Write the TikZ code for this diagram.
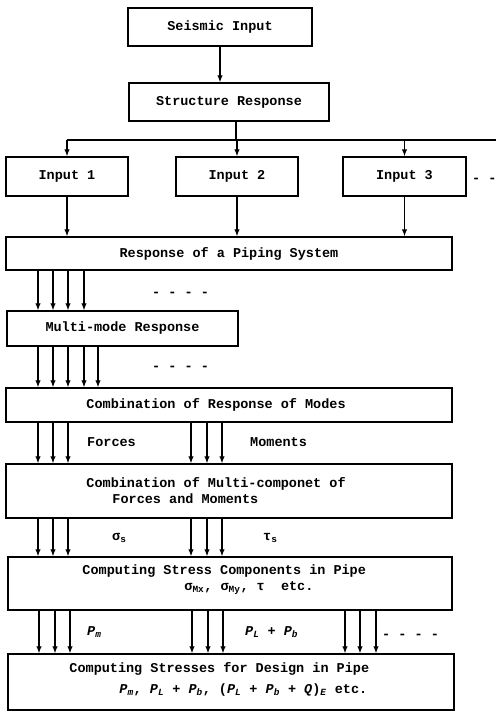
\documentclass[tikz,border=0pt]{standalone}
\usepackage{fontspec}
\setmonofont{Liberation Mono}
\usepackage{tikz}
\usetikzlibrary{positioning, arrows.meta}

\tikzset{
  box/.style={draw, line width=1.5pt, inner sep=0pt, font={\ttfamily\bfseries\fontsize{13.5}{16}\selectfont}},
  txt/.style={inner sep=0pt, anchor=west, align=left, font={\ttfamily\bfseries\fontsize{13.5}{16}\selectfont}},
  arr/.style={-{Latex[length=7pt,width=5.5pt]}, line width=1.1pt},
  wire/.style={line width=1.1pt}
}
\newcommand{\Pvar}[1]{\textit{P}\textsubscript{\textit{#1}}}

\begin{document}
\begin{tikzpicture}[x=1pt, y=-1pt]
    \useasboundingbox (0,0) rectangle (496,713);

    % Draw boxes
    \node[box, minimum width=184pt, minimum height=38pt] (seis) at (220,27) {Seismic Input};
    \node[box, minimum width=200pt, minimum height=38pt] (struct) at (229,102) {Structure Response};
    \node[box, minimum width=122pt, minimum height=39pt] (in1) at (67,176.5) {Input 1};
    \node[box, minimum width=122pt, minimum height=39pt] (in2) at (237,176.5) {Input 2};
    \node[box, minimum width=123pt, minimum height=39pt] (in3) at (404.5,176.5) {Input 3};
    \node[box, minimum width=446pt, minimum height=33pt] (resp) at (229,253.5) {Response of a Piping System};
    \node[box, minimum width=231pt, minimum height=35pt] (multi) at (122.5,328.5) {Multi-mode Response};
    \node[box, minimum width=446pt, minimum height=34pt] (crm) at (229,405) {};
    \node[box, minimum width=446pt, minimum height=54pt] (cmc) at (229,491) {};
    \node[box, minimum width=444pt, minimum height=53pt] (csc) at (230,583.5) {};
    \node[box, minimum width=446pt, minimum height=56pt] (csd) at (231,682) {};

    % Text of the wide boxes
    \node[txt] (crmT) at ([xshift=81pt]crm.west) {Combination of Response of Modes};
    \node[txt] (cmcT) at ([xshift=81pt]cmc.west) {Combination of Multi-componet of\\\hspace*{26pt}Forces and Moments};
    \node[txt] (cscT) at ([xshift=75pt, yshift=3.5pt]csc.west) {Computing Stress Components in Pipe\\\hspace*{102pt}σ\textsubscript{Mx}, σ\textsubscript{My}, τ\ \ etc.};
    \node[txt] (csdT) at ([xshift=62pt, yshift=2.5pt]csd.west) {Computing Stresses for Design in Pipe\\[5pt]\hspace*{50pt}\Pvar{m}, \Pvar{L} + \Pvar{b}, (\Pvar{L} + \Pvar{b} + \textit{Q})\textsubscript{\textit{E}} etc.};

    % Draw top connectors
    \draw[arr] (seis.south) -- (seis.south |- struct.north);
    \coordinate (split) at (236,140);
    \coordinate (rend) at (496,140);
    \draw[wire] (split |- struct.south) -- (split);
    \draw[wire] (in1.north |- split) -- (rend);
    \foreach \n in {in1,in2,in3} {
      \draw[arr] (\n.north |- split) -- (\n.north);
      \draw[arr] (\n.south) -- (\n.south |- resp.north);
    }

    % Draw bundles of arrows
    \foreach \x in {38,53,68,84}
      \draw[arr] (\x,0 |- resp.south) -- (\x,0 |- multi.north);
    \foreach \x in {38,53,68,84,98}
      \draw[arr] (\x,0 |- multi.south) -- (\x,0 |- crm.north);
    \foreach \x in {38,53,68,191,207,222} {
      \draw[arr] (\x,0 |- crm.south) -- (\x,0 |- cmc.north);
      \draw[arr] (\x,0 |- cmc.south) -- (\x,0 |- csc.north);
    }
    \foreach \x in {39,55,70,192,208,223,345,360,376}
      \draw[arr] (\x,0 |- csc.south) -- (\x,0 |- csd.north);

    % Labels between boxes
    \node[txt] (more) at (472,180) {- -};
    \node[txt] (dots1) at (152,294) {- - - -};
    \node[txt] (dots2) at (152,368) {- - - -};
    \node[txt] (forces) at (87,442) {Forces};
    \node[txt] (moments) at (250,442) {Moments};
    \node[txt] (sigs) at (112,538) {σ\textsubscript{s}};
    \node[txt] (taus) at (263,538) {τ\textsubscript{s}};
    \node[txt] (pm) at (87,632) {\Pvar{m}};
    \node[txt] (plpb) at (245,632) {\Pvar{L} + \Pvar{b}};
    \node[txt] (dots3) at (382,636) {- - - -};
\end{tikzpicture}
\end{document}
